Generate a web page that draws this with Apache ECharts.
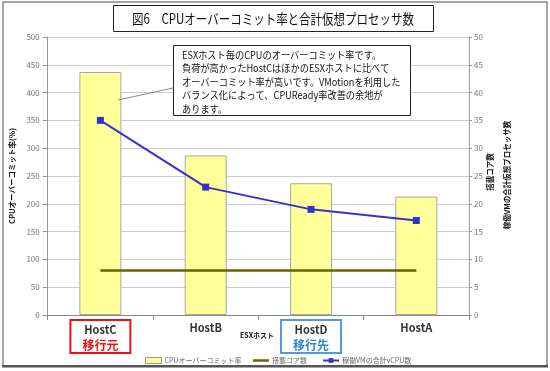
<!DOCTYPE html>
<html><head><meta charset="utf-8">
<script src="https://cdn.jsdelivr.net/npm/echarts@6/dist/echarts.min.js"></script>
<style>html,body{margin:0;padding:0;background:#fff}#c{width:550px;height:371px}</style>
</head><body><div id="c"></div>
<script>
const categories = ['HostC', 'HostB', 'HostD', 'HostA'];
const overcommit = [437, 287, 237, 213];
const cores = [8, 8, 8, 8];
const vcpus = [35, 23, 19, 17];
const leftTicks = {min: 0, max: 500, interval: 50};
const rightTicks = {min: 0, max: 50, interval: 5};
const seriesNames = ['CPUオーバーコミット率', '搭載コア数', '稼働VMの合計vCPU数'];
const titleText = '図6　CPUオーバーコミット率と合計仮想プロセッサ数';
const noteLines = [
  'ESXホスト毎のCPUのオーバーコミット率です。',
  '負荷が高かったHostCはほかのESXホストに比べて',
  'オーバーコミット率が高いです。VMotionを利用した',
  'バランス化によって、CPUReady率改善の余地が',
  'あります。'
];
const FONT = '"Noto Sans CJK JP", "Noto Sans", sans-serif';
const chart = echarts.init(document.getElementById('c'));
const catData = categories.map(function (c) {
  if (c === 'HostC') return {value: c, textStyle: {borderColor: '#ee1111', borderWidth: 2, padding: [2, 12, 0, 12]}};
  if (c === 'HostD') return {value: c, textStyle: {borderColor: '#5599dd', borderWidth: 2, padding: [2, 12, 0, 12]}};
  return c;
});
const legendBase = {
  top: 352, itemWidth: 16, itemHeight: 6, itemGap: 4,
  textStyle: {fontSize: 7, color: '#666', fontFamily: FONT, padding: [0, 0, 0, -2]}
};
const option = {
  animation: false,
  textStyle: {fontFamily: FONT},
  grid: {left: 46, right: 81, top: 37, bottom: 56, containLabel: false},
  xAxis: {
    type: 'category', data: catData,
    axisLine: {lineStyle: {color: '#888'}},
    axisTick: {show: true, alignWithLabel: false, lineStyle: {color: '#888'}},
    axisLabel: {
      margin: 5, interval: 0,
      formatter: function (v) {
        if (v === 'HostC') return '{h|' + v + '}\n{r|移行元}';
        if (v === 'HostD') return '{h|' + v + '}\n{b|移行先}';
        return '{h|' + v + '}';
      },
      rich: {
        h: {fontSize: 11, fontWeight: 'bold', color: '#333', fontFamily: FONT, lineHeight: 15},
        r: {fontSize: 12, fontWeight: 'bold', color: '#ee1111', fontFamily: FONT, lineHeight: 16},
        b: {fontSize: 12, fontWeight: 'bold', color: '#3388cc', fontFamily: FONT, lineHeight: 16}
      }
    }
  },
  yAxis: [
    {
      type: 'value', min: leftTicks.min, max: leftTicks.max, interval: leftTicks.interval,
      name: 'CPUオーバーコミット率(%)', nameLocation: 'middle', nameGap: 24, nameRotate: 90,
      nameTextStyle: {fontSize: 7.5, fontWeight: 'bold', color: '#111', fontFamily: FONT},
      axisLine: {show: true, lineStyle: {color: '#999'}},
      axisTick: {show: true, length: 5, lineStyle: {color: '#999'}},
      axisLabel: {fontSize: 8, color: '#777', margin: 8},
      splitLine: {lineStyle: {color: '#cccccc'}}
    },
    {
      type: 'value', min: rightTicks.min, max: rightTicks.max, interval: rightTicks.interval,
      axisLine: {show: true, lineStyle: {color: '#999'}},
      axisTick: {show: true, length: 3, lineStyle: {color: '#999'}},
      axisLabel: {fontSize: 8, color: '#777', margin: 5},
      splitLine: {show: false}
    }
  ],
  legend: [
    Object.assign({}, legendBase, {left: 140, data: [{name: seriesNames[0], icon: 'rect', itemStyle: {color: '#ffff99', borderColor: '#999', borderWidth: 1}}]}),
    Object.assign({}, legendBase, {left: 248, data: [{name: seriesNames[1], icon: 'path://M0,0 L16,0 L16,2.5 L0,2.5 Z'}]}),
    Object.assign({}, legendBase, {left: 317, data: [{name: seriesNames[2]}]})
  ],
  series: [
    {
      name: seriesNames[0], type: 'bar', data: overcommit, barWidth: 42, yAxisIndex: 0,
      itemStyle: {color: '#ffff99', borderColor: '#a8a8a8', borderWidth: 1}
    },
    {
      name: seriesNames[1], type: 'line', data: cores, yAxisIndex: 1, symbol: 'none',
      lineStyle: {color: '#666600', width: 2.5}, itemStyle: {color: '#666600'}
    },
    {
      name: seriesNames[2], type: 'line', data: vcpus, yAxisIndex: 1, symbol: 'rect', symbolSize: 7,
      lineStyle: {color: '#3333cc', width: 2}, itemStyle: {color: '#3333cc'}
    }
  ],
  graphic: [
    {type: 'rect', shape: {x: 3, y: 2, width: 544, height: 364}, style: {fill: 'none', stroke: '#888', lineWidth: 1.5}, z: 0},
    {type: 'rect', shape: {x: 2, y: 365, width: 546, height: 2.5}, style: {fill: '#555'}, z: 0},
    {type: 'rect', shape: {x: 113.5, y: 5.5, width: 320, height: 26}, style: {fill: '#fff', stroke: '#222', lineWidth: 1}, z: 10},
    {type: 'text', x: 273, y: 19, scaleX: 0.82, style: {text: titleText, font: '14px ' + FONT, fill: '#111', textAlign: 'center', textVerticalAlign: 'middle'}, z: 11},
    {type: 'line', shape: {x1: 173, y1: 88, x2: 118, y2: 100}, style: {stroke: '#888', lineWidth: 1}, z: 10},
    {type: 'rect', shape: {x: 173.5, y: 45.5, width: 237, height: 70}, style: {fill: '#fff', stroke: '#222', lineWidth: 1}, z: 10},
    {type: 'text', x: 182, y: 48, scaleX: 0.92, style: {text: noteLines.join('\n'), font: '10px ' + FONT, lineHeight: 13.5, fill: '#111'}, z: 11},
    {type: 'text', x: 257, y: 335, style: {text: 'ESXホスト', font: 'bold 7px ' + FONT, fill: '#111', textAlign: 'center', textVerticalAlign: 'middle'}, z: 11},
    {type: 'text', x: 490, y: 172, rotation: Math.PI / 2, style: {text: '搭載コア数', font: 'bold 7.5px ' + FONT, fill: '#111', textAlign: 'center', textVerticalAlign: 'middle'}, z: 11},
    {type: 'text', x: 507, y: 175, rotation: Math.PI / 2, style: {text: '稼働VMの合計仮想プロセッサ数', font: 'bold 7.5px ' + FONT, fill: '#111', textAlign: 'center', textVerticalAlign: 'middle'}, z: 11}
  ]
};
chart.setOption(option);
</script></body></html>
